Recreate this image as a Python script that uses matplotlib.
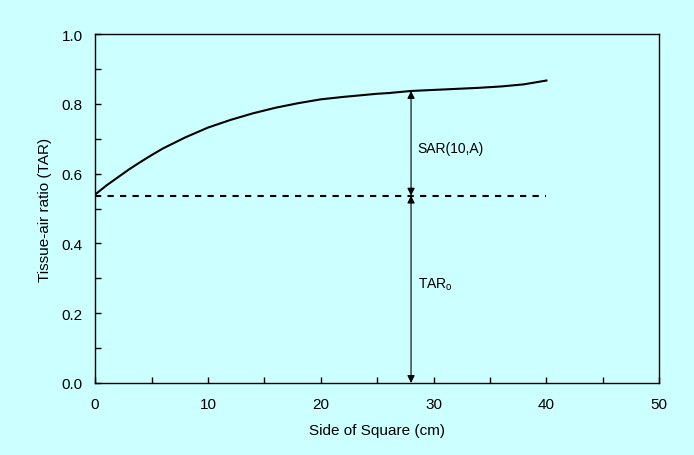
import numpy as np
import matplotlib.pyplot as plt

plt.rcParams['font.family'] = ['Liberation Sans', 'DejaVu Sans']

# tissue-air ratio vs side of square field
side = [0, 1, 2, 3, 4, 5, 6, 8, 10, 12, 14, 15, 16, 18, 20, 22, 24, 25, 26, 28,
        30, 32, 34, 35, 36, 38, 40]
tar = [0.540, 0.566, 0.589, 0.612, 0.633, 0.653, 0.672, 0.704, 0.732, 0.754,
       0.773, 0.781, 0.789, 0.802, 0.813, 0.820, 0.826, 0.829, 0.831, 0.837,
       0.840, 0.843, 0.846, 0.848, 0.850, 0.856, 0.867]
tar0 = 0.537
x_arrow = 28
tar_at_arrow = 0.837

bg = '#ccffff'
fig = plt.figure(figsize=(6.94, 4.56), dpi=100, facecolor=bg)
ax = fig.add_axes([0.137, 0.158, 0.813, 0.765])
ax.set_facecolor(bg)

ax.plot(side, tar, color='black', lw=1.5)
ax.plot([0, 40], [tar0, tar0], color='black', lw=1.5, linestyle=(0, (3, 3)))

# double-headed arrows marking SAR and TAR0
arrow = dict(arrowstyle='<|-|>', color='black', lw=0.8, mutation_scale=11,
             shrinkA=0, shrinkB=0)
ax.annotate('', xy=(x_arrow, tar_at_arrow), xytext=(x_arrow, tar0), arrowprops=arrow)
ax.annotate('', xy=(x_arrow, tar0), xytext=(x_arrow, 0), arrowprops=arrow)
ax.text(28.6, 0.673, 'SAR(10,A)', fontsize=10, va='center')
ax.text(28.6, 0.284, 'TAR$_\\mathregular{o}$', fontsize=10, va='center')

ax.set_xlim(0, 50)
ax.set_ylim(0, 1.0)
ax.set_xticks(np.arange(0, 51, 10))
ax.set_xticks(np.arange(0, 51, 5), minor=True)
ax.set_yticks(np.arange(0, 1.01, 0.2))
ax.set_yticks(np.arange(0, 1.01, 0.1), minor=True)
ax.yaxis.set_major_formatter(plt.FormatStrFormatter('%.1f'))
ax.tick_params(which='both', direction='in', length=4, width=1, labelsize=11)
ax.tick_params(axis='x', pad=10)
ax.tick_params(axis='y', pad=9)
for s in ax.spines.values():
    s.set_linewidth(1)

ax.set_xlabel('Side of Square (cm)', fontsize=11, labelpad=9)
ax.set_ylabel('Tissue-air ratio (TAR)', fontsize=11, labelpad=7)

fig.savefig('out.png', dpi=100, facecolor=bg)
